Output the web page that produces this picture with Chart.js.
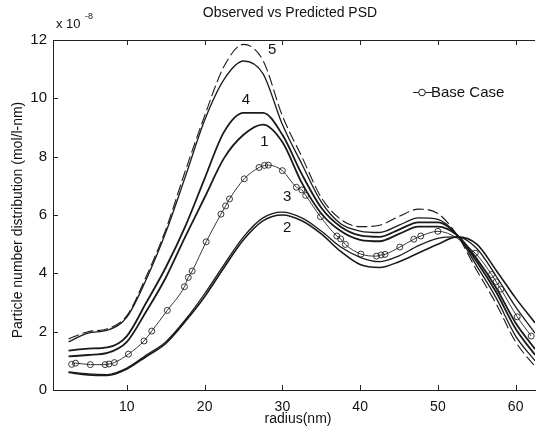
<!DOCTYPE html>
<html>
<head>
<meta charset="utf-8">
<script src="https://cdn.jsdelivr.net/npm/chart.js@4.4.0/dist/chart.umd.min.js"></script>
<style>
  body { margin: 0; background: #fff; }
  canvas { display: block; }
</style>
</head>
<body>
<canvas id="psd" width="540" height="432"></canvas>
<script>
// radius grid (nm) for the predicted curves
const radius = [2.5, 5, 7.5, 10, 12.5, 15, 17.5, 20, 22.5, 25, 27.5, 30, 32.5,
                35, 37.5, 40, 42.5, 45, 47.5, 50, 52.5, 55, 57.5, 60, 62.5];

// values in units of 1e-8 mol/l-nm
const case5Dashed = [1.75, 2.0, 2.1, 2.55, 3.9, 5.5, 7.5, 9.4, 11.1, 11.85, 11.3, 9.4, 8.0,
                     6.6, 5.85, 5.6, 5.65, 5.95, 6.2, 6.05, 5.3, 4.1, 2.95, 1.65, 0.8];
const case5 = [1.65, 1.95, 2.05, 2.5, 3.8, 5.4, 7.3, 9.25, 10.65, 11.28, 10.85, 9.1, 7.75,
               6.45, 5.7, 5.45, 5.4, 5.65, 5.9, 5.85, 5.3, 4.25, 3.15, 1.85, 1.0];
const case4 = [1.35, 1.42, 1.46, 1.85, 3.0, 4.2, 5.6, 7.25, 8.85, 9.5, 9.5, 8.75, 7.4,
               6.25, 5.6, 5.3, 5.25, 5.5, 5.75, 5.75, 5.3, 4.4, 3.35, 2.1, 1.2];
const case1 = [1.15, 1.2, 1.27, 1.65, 2.7, 3.85, 5.25, 6.6, 7.95, 8.75, 9.1, 8.5, 7.1,
               6.05, 5.45, 5.15, 5.1, 5.35, 5.6, 5.6, 5.3, 4.5, 3.5, 2.3, 1.4];
const case3 = [0.62, 0.55, 0.53, 0.75, 1.2, 1.65, 2.4, 3.3, 4.3, 5.25, 5.9, 6.1, 5.9,
               5.45, 4.9, 4.55, 4.4, 4.6, 4.95, 5.2, 5.25, 4.85, 3.9, 2.85, 1.95];
const case2 = [0.6, 0.52, 0.5, 0.72, 1.15, 1.6, 2.35, 3.2, 4.2, 5.15, 5.8, 6.0, 5.8,
               5.35, 4.75, 4.3, 4.2, 4.4, 4.7, 5.0, 5.25, 5.0, 4.1, 3.15, 2.3];

// base case (observed points, drawn with circles)
const baseRadius = [2.9, 3.4, 5.3, 7.2, 7.7, 8.4, 10.2, 12.2, 13.2, 15.2, 17.4, 17.9, 18.4,
                    20.2, 22.1, 22.7, 23.2, 25.1, 27.0, 27.7, 28.2, 30.0, 31.8, 32.5, 33.0,
                    34.9, 37.0, 37.5, 38.1, 40.1, 42.1, 42.7, 43.2, 45.1, 46.9, 47.8, 50.0,
                    54.8, 56.9, 57.5, 58.1, 60.2, 62.0];
const baseValues = [0.88, 0.92, 0.87, 0.87, 0.89, 0.94, 1.23, 1.68, 2.02, 2.73, 3.54, 3.86, 4.08,
                    5.08, 6.03, 6.31, 6.55, 7.24, 7.63, 7.70, 7.71, 7.52, 6.95, 6.86, 6.67,
                    5.94, 5.28, 5.18, 4.99, 4.66, 4.59, 4.63, 4.65, 4.90, 5.17, 5.28, 5.44,
                    4.69, 3.96, 3.71, 3.46, 2.51, 1.85];

const xTicks = [10, 20, 30, 40, 50, 60];
const yTicks = [0, 2, 4, 6, 8, 10, 12];

// case numbers written next to the curves (anchored in data units)
const curveNames = ["5", "4", "1", "3", "2"];
const curveNameRadius = [28.7, 25.3, 27.7, 30.6, 30.6];
const curveNameValue = [11.65, 9.94, 8.51, 6.62, 5.55];

function pairs(xs, ys) {
    return xs.map((x, i) => ({ x: x, y: ys[i] }));
}

function line(data, width, dash) {
    return {
        data: data,
        borderColor: "#1a1a1a",
        borderWidth: width,
        borderDash: dash || [],
        pointRadius: 0,
        cubicInterpolationMode: "monotone",
        fill: false
    };
}

const FONT = "Liberation Sans, Arial, sans-serif";

const decorations = {
    id: "decorations",
    afterDraw(chart) {
        const ctx = chart.ctx;
        const { left, right, top, bottom } = chart.chartArea;
        const xs = chart.scales.x, ys = chart.scales.y;
        ctx.save();
        ctx.strokeStyle = "#222";
        ctx.lineWidth = 1;

        // box top edge
        ctx.beginPath();
        ctx.moveTo(left, top + 0.5);
        ctx.lineTo(right, top + 0.5);
        ctx.stroke();

        // inward tick marks
        ctx.beginPath();
        xTicks.forEach(v => {
            const px = Math.round(xs.getPixelForValue(v)) + 0.5;
            ctx.moveTo(px, bottom); ctx.lineTo(px, bottom - 5);
            ctx.moveTo(px, top); ctx.lineTo(px, top + 5);
        });
        yTicks.forEach(v => {
            const py = Math.round(ys.getPixelForValue(v)) + 0.5;
            ctx.moveTo(left, py); ctx.lineTo(left + 5, py);
        });
        ctx.stroke();

        ctx.fillStyle = "#111";
        ctx.textBaseline = "middle";

        // title
        ctx.font = "14px " + FONT;
        ctx.textAlign = "center";
        ctx.fillText("Observed vs Predicted PSD", 290, 13);

        // exponent
        ctx.textAlign = "left";
        ctx.font = "13px " + FONT;
        ctx.fillText("x 10", 56, 24);
        ctx.font = "9px " + FONT;
        ctx.fillText("-8", 85, 17);

        // axis titles
        ctx.font = "14px " + FONT;
        ctx.textAlign = "center";
        ctx.fillText("radius(nm)", 298, 419);
        ctx.save();
        ctx.translate(18, 220);
        ctx.rotate(-Math.PI / 2);
        ctx.fillText("Particle number distribution (mol/l-nm)", 0, 0);
        ctx.restore();

        // curve numbers
        ctx.font = "15px " + FONT;
        curveNames.forEach((name, i) => {
            ctx.fillText(name, xs.getPixelForValue(curveNameRadius[i]),
                         ys.getPixelForValue(curveNameValue[i]));
        });

        // legend entry
        ctx.beginPath();
        ctx.moveTo(413, 92.5); ctx.lineTo(432, 92.5);
        ctx.stroke();
        ctx.beginPath();
        ctx.arc(422, 92.5, 3.3, 0, Math.PI * 2);
        ctx.fillStyle = "#fff";
        ctx.fill();
        ctx.stroke();
        ctx.fillStyle = "#111";
        ctx.textAlign = "left";
        ctx.font = "15px " + FONT;
        ctx.fillText("Base Case", 431, 93);
        ctx.restore();
    }
};

new Chart(document.getElementById("psd"), {
    type: "line",
    data: {
        datasets: [
            line(pairs(radius, case5Dashed), 1.1, [11, 4]),
            line(pairs(radius, case5), 1.3),
            line(pairs(radius, case4), 1.8),
            line(pairs(radius, case1), 1.8),
            line(pairs(radius, case3), 1.3),
            line(pairs(radius, case2), 1.6),
            {
                data: pairs(baseRadius, baseValues),
                borderColor: "#222",
                borderWidth: 0.9,
                pointRadius: 3,
                pointBorderWidth: 0.9,
                pointBorderColor: "#222",
                pointBackgroundColor: "rgba(255,255,255,0)",
                cubicInterpolationMode: "monotone",
                fill: false
            }
        ]
    },
    options: {
        responsive: false,
        animation: false,
        devicePixelRatio: 1,
        layout: { padding: { top: 40, right: 0, left: 0, bottom: 0 } },
        scales: {
            x: {
                type: "linear",
                min: 0.5,
                max: 62.5,
                afterBuildTicks: scale => {
                    scale.ticks = xTicks.map(v => ({ value: v }));
                },
                afterFit: scale => { scale.height = 42; },
                grid: { display: false, drawTicks: false },
                border: { display: true, color: "#222", width: 1 },
                ticks: {
                    padding: 9,
                    color: "#111",
                    maxRotation: 0,
                    font: { family: FONT, size: 14 }
                }
            },
            y: {
                min: 0,
                max: 12,
                afterBuildTicks: scale => {
                    scale.ticks = yTicks.map(v => ({ value: v }));
                },
                afterFit: scale => { scale.width = 53; },
                grid: { display: false, drawTicks: false },
                border: { display: true, color: "#222", width: 1 },
                ticks: {
                    padding: 6,
                    color: "#111",
                    font: { family: FONT, size: 15 }
                }
            }
        },
        plugins: {
            legend: { display: false },
            tooltip: { enabled: false },
            title: { display: false }
        }
    },
    plugins: [decorations]
});
</script>
</body>
</html>
